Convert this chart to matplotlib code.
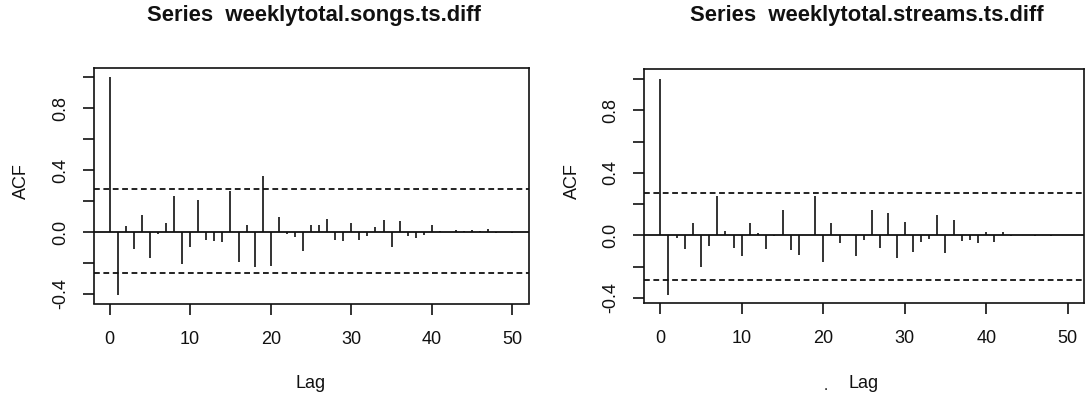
import matplotlib
matplotlib.use('Agg')
import matplotlib.pyplot as plt
from matplotlib.ticker import FixedLocator, FixedFormatter

lags = list(range(51))
songs_acf = [1.0, -0.41, 0.041, -0.11, 0.108, -0.17, -0.01, 0.056, 0.231, -0.207,
             -0.10, 0.207, -0.05, -0.056, -0.063, 0.266, -0.197, 0.043, -0.229, 0.365,
             -0.22, 0.097, -0.015, -0.032, -0.125, 0.047, 0.047, 0.084, -0.052, -0.058,
             0.060, -0.05, -0.028, 0.032, 0.075, -0.097, 0.071, -0.028, -0.037, -0.019,
             0.043, 0.005, 0.003, 0.015, 0.005, 0.01, 0.008, 0.019, -0.008, 0.002,
             -0.008]
streams_acf = [1.0, -0.38, -0.02, -0.087, 0.077, -0.205, -0.066, 0.252, 0.026, -0.079,
               -0.132, 0.077, 0.015, -0.087, -0.003, 0.164, -0.094, -0.124, 0.003, 0.252,
               -0.168, 0.081, -0.051, 0.005, -0.132, -0.03, 0.164, -0.083, 0.143, -0.145,
               0.083, -0.109, -0.045, -0.026, 0.13, -0.113, 0.1, -0.036, -0.03, -0.049,
               0.024, -0.04, 0.024, -0.002, 0.005, 0.002, -0.002, 0.001, -0.002, 0.001,
               0.0]
songs_ci = [0.28, -0.268]
streams_ci = [0.27, -0.285]
titles = ["Series  weeklytotal.songs.ts.diff", "Series  weeklytotal.streams.ts.diff"]
xlabel = "Lag"
ylabel = "ACF"
xticks = [0, 10, 20, 30, 40, 50]
yticks = [-0.4, -0.2, 0.0, 0.2, 0.4, 0.6, 0.8, 1.0]
ytick_labels = ["-0.4", "", "0.0", "", "0.4", "", "0.8", ""]

plt.rcParams['font.family'] = ['Liberation Sans', 'DejaVu Sans']
W, H = 1086, 397
fig = plt.figure(figsize=(W / 100, H / 100), dpi=100)
INK = '#111111'


def px_axes(l, t, r, b):
    return fig.add_axes([l / W, 1 - b / H, (r - l) / W, (b - t) / H])


panels = [
    dict(box=(93.5, 68.3, 528.5, 303.5), ylim=(-0.462, 1.058), acf=songs_acf,
         ci=songs_ci, title=titles[0], tx=313.5),
    dict(box=(644.0, 69.3, 1084.0, 303.0), ylim=(-0.433, 1.062), acf=streams_acf,
         ci=streams_ci, title=titles[1], tx=867.0),
]

for p in panels:
    ax = px_axes(*p['box'])
    ax.set_xlim(-2, 52)
    ax.set_ylim(*p['ylim'])
    ax.vlines(lags, 0, p['acf'], color=INK, lw=1.2)
    ax.axhline(0, color=INK, lw=1.3)
    for c in p['ci']:
        ax.axhline(c, color=INK, lw=1.3, ls=(0, (3.2, 2.0)))
    ax.xaxis.set_major_locator(FixedLocator(xticks))
    ax.yaxis.set_major_locator(FixedLocator(yticks))
    ax.yaxis.set_major_formatter(FixedFormatter(ytick_labels))
    ax.tick_params(axis='both', direction='out', length=7.6, width=1.2,
                   colors=INK, labelsize=13)
    ax.tick_params(axis='x', pad=12)
    ax.tick_params(axis='y', pad=10)
    for lab in ax.get_yticklabels():
        lab.set_rotation(90)
        lab.set_va('center')
    for s in ax.spines.values():
        s.set_linewidth(1.2)
        s.set_color(INK)
    ax.set_xlabel(xlabel, fontsize=13, color=INK, va='center')
    ax.xaxis.set_label_coords(0.5, -(383 - p['box'][3]) / (p['box'][3] - p['box'][1]))
    ax.set_ylabel(ylabel, fontsize=13, color=INK, va='center')
    ax.yaxis.set_label_coords(-71.8 / (p['box'][2] - p['box'][0]), 0.52)
    fig.text(p['tx'] / W, 1 - 21 / H, p['title'], ha='center', va='baseline',
             fontsize=15.8, fontweight='bold', color=INK)

fig.text(826 / W, 1 - 386 / H, ".", ha='center', va='center', fontsize=11, color=INK)

fig.savefig('out.png', dpi=100, facecolor='white')
